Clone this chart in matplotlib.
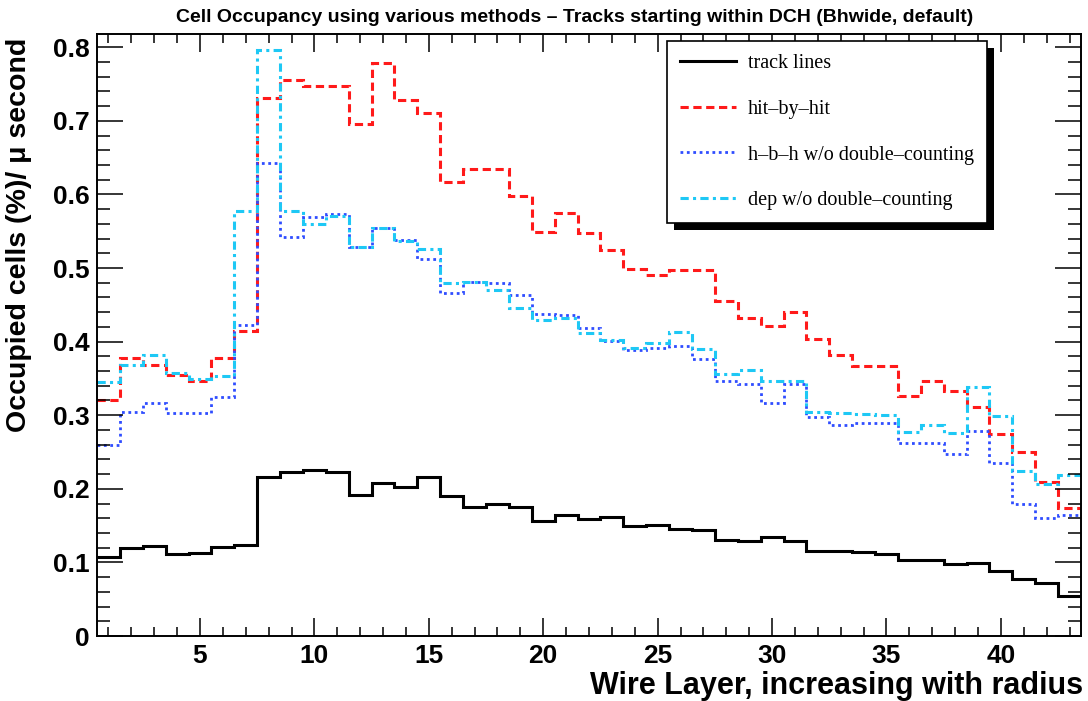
import numpy as np
import matplotlib
matplotlib.use("Agg")
import matplotlib.pyplot as plt
from matplotlib import font_manager
from matplotlib.patches import Rectangle
from matplotlib.ticker import MultipleLocator, FuncFormatter

# Occupancy per wire layer (43 layers), four counting methods
layers = np.arange(1, 44)
track_lines = [0.107, 0.119, 0.122, 0.111, 0.113, 0.121, 0.124, 0.216, 0.223, 0.225,
               0.223, 0.191, 0.208, 0.203, 0.216, 0.190, 0.175, 0.179, 0.175, 0.156,
               0.165, 0.159, 0.162, 0.150, 0.151, 0.146, 0.144, 0.130, 0.129, 0.135,
               0.129, 0.116, 0.116, 0.114, 0.112, 0.103, 0.103, 0.098, 0.099, 0.088,
               0.077, 0.072, 0.054]
hit_by_hit = [0.321, 0.378, 0.368, 0.355, 0.346, 0.378, 0.414, 0.731, 0.755, 0.747,
              0.747, 0.696, 0.778, 0.728, 0.711, 0.617, 0.634, 0.634, 0.598, 0.549,
              0.575, 0.547, 0.525, 0.499, 0.491, 0.497, 0.497, 0.455, 0.432, 0.421,
              0.440, 0.403, 0.382, 0.367, 0.367, 0.326, 0.347, 0.333, 0.311, 0.275,
              0.250, 0.209, 0.174]
hbh_no_double = [0.259, 0.305, 0.317, 0.303, 0.303, 0.325, 0.422, 0.643, 0.542, 0.570,
                 0.574, 0.528, 0.555, 0.538, 0.512, 0.466, 0.481, 0.479, 0.463, 0.438,
                 0.436, 0.419, 0.401, 0.389, 0.392, 0.394, 0.377, 0.347, 0.342, 0.317,
                 0.342, 0.297, 0.287, 0.290, 0.289, 0.262, 0.262, 0.247, 0.278, 0.235,
                 0.180, 0.161, 0.164]
dep_no_double = [0.345, 0.368, 0.382, 0.357, 0.349, 0.353, 0.578, 0.796, 0.578, 0.560,
                 0.571, 0.528, 0.555, 0.537, 0.526, 0.480, 0.481, 0.470, 0.446, 0.429,
                 0.432, 0.412, 0.402, 0.391, 0.398, 0.413, 0.390, 0.356, 0.362, 0.346,
                 0.346, 0.305, 0.303, 0.302, 0.300, 0.277, 0.287, 0.276, 0.338, 0.299,
                 0.224, 0.206, 0.219]
labels = ["track lines", "hit\u2013by\u2013hit", "h\u2013b\u2013h w/o double\u2013counting",
          "dep w/o double\u2013counting"]

edges = np.append(layers - 0.5, layers[-1] + 0.5)

sans = "Liberation Sans"
serif = "Liberation Serif"
installed = {f.name for f in font_manager.fontManager.ttflist}
if "Liberation Sans Narrow" in installed:
    title_family, title_size = "Liberation Sans Narrow", 15.5
else:
    title_family, title_size = sans, 14

fig = plt.figure(figsize=(10.88, 7.01), dpi=100)
W, H = 1088, 701
ax = fig.add_axes([97 / W, 1 - 636 / H, (1081 - 97) / W, (636 - 34) / H])

styles = [
    dict(color="black", lw=2.2, linestyle="-"),
    dict(color="#ff1a1a", lw=2.2, linestyle=(0, (2.7, 1.5))),
    dict(color="#2f4dff", lw=2.0, linestyle=(0, (1.0, 1.3))),
    dict(color="#1ec8f5", lw=2.2, linestyle=(0, (2.7, 1.4, 1.0, 1.4))),
]
series = [track_lines, hit_by_hit, hbh_no_double, dep_no_double]
handles = []
for vals, st, lab in zip(series, styles, labels):
    h = ax.stairs(vals, edges, baseline=None, label=lab, **st)
    handles.append(h)

ax.set_xlim(edges[0], edges[-1])
ax.set_ylim(0, 0.818)

ax.xaxis.set_major_locator(MultipleLocator(5))
ax.xaxis.set_minor_locator(MultipleLocator(1))
ax.yaxis.set_major_locator(MultipleLocator(0.1))
ax.yaxis.set_minor_locator(MultipleLocator(0.02))
ax.yaxis.set_major_formatter(FuncFormatter(lambda v, p: f"{v:.1f}" if abs(v) > 1e-9 else "0"))

ax.tick_params(which="both", direction="in", top=True, right=True, width=1.1, color="black")
ax.tick_params(axis="y", which="major", length=19, pad=5)
ax.tick_params(axis="y", which="minor", length=9.5)
ax.tick_params(axis="x", which="major", length=13, pad=6)
ax.tick_params(axis="x", which="minor", length=6.5)
for lab in ax.get_xticklabels() + ax.get_yticklabels():
    lab.set_fontfamily(sans)
    lab.set_fontweight("bold")
    lab.set_fontsize(19)
for sp in ax.spines.values():
    sp.set_linewidth(1.4)

fig.text(1083 / W, 1 - 686 / H, "Wire Layer, increasing with radius", ha="right", va="center",
         fontfamily=sans, fontweight="bold", fontsize=22)
fig.text(19 / W, 1 - 38 / H, "Occupied cells (%)/ \u03bc second", rotation=90, ha="center", va="top",
         fontfamily=sans, fontweight="bold", fontsize=20.5)
fig.text(575 / W, 1 - 17 / H,
         "Cell Occupancy using various methods \u2013 Tracks starting within DCH (Bhwide, default)",
         ha="center", va="center", fontfamily=title_family, fontweight="bold", fontsize=title_size)

leg = ax.legend(handles=handles, loc="upper left", bbox_to_anchor=(667 / W, 1 - 41 / H),
                bbox_transform=fig.transFigure, borderaxespad=0, fancybox=False,
                prop={"family": serif, "size": 14.5}, handlelength=2.8, handletextpad=0.55,
                labelspacing=1.32, borderpad=0.65, framealpha=1)
leg.get_frame().set_edgecolor("black")
leg.get_frame().set_linewidth(1.2)
leg.set_zorder(5)

# drop shadow behind the legend box
fig.canvas.draw()
bb = leg.get_frame().get_window_extent().transformed(fig.transFigure.inverted())
off_x, off_y = 7 / W, 7 / H
shadow = Rectangle((bb.x0 + off_x, bb.y0 - off_y), bb.width, bb.height, transform=fig.transFigure,
                   facecolor="black", edgecolor="none", zorder=4.9, clip_on=False)
ax.add_artist(shadow)

fig.savefig("out.png", dpi=100)
